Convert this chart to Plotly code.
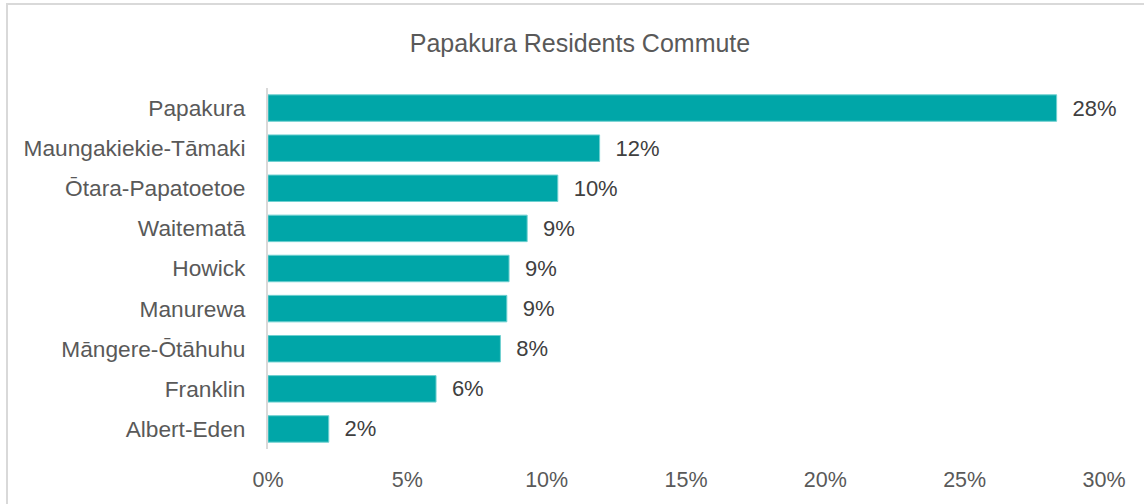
import plotly.graph_objects as go

categories = ["Papakura", "Maungakiekie-Tāmaki", "Ōtara-Papatoetoe", "Waitematā",
              "Howick", "Manurewa", "Māngere-Ōtāhuhu", "Franklin", "Albert-Eden"]
values = [0.283, 0.119, 0.104, 0.093, 0.0865, 0.0857, 0.0834, 0.0603, 0.0218]
x_tick_vals = [0, 0.05, 0.10, 0.15, 0.20, 0.25, 0.30]
x_tick_text = ["0%", "5%", "10%", "15%", "20%", "25%", "30%"]
title_text = "Papakura Residents Commute"

W, H = 1144, 504
L, R, T, B = 268, 40, 88, 55
FONT = "Liberation Sans"

fig = go.Figure()
fig.add_trace(go.Bar(
    y=categories, x=values, orientation="h",
    marker=dict(color="#00A6A8", line=dict(color="#6fd0d0", width=1)),
    text=[f"\u2002\u200a{round(v*100):d}%" for v in values],
    textposition="outside", cliponaxis=False,
    textfont=dict(family=FONT, size=22, color="#404040"),
    hoverinfo="skip",
))

fig.update_layout(
    width=W, height=H,
    margin=dict(l=L, r=R, t=T, b=B, pad=0),
    paper_bgcolor="white", plot_bgcolor="white",
    bargap=0.34,
    showlegend=False,
    title=dict(text=title_text, x=580 / W, xref="container", xanchor="center",
               y=1 - 43 / H, yref="container", yanchor="middle",
               font=dict(family=FONT, size=25, color="#595959")),
    xaxis=dict(range=[0, 0.30], tickvals=x_tick_vals, ticktext=x_tick_text,
               showgrid=False, zeroline=False, showline=False, ticks="",
               tickfont=dict(family=FONT, size=21.5, color="#595959"), ticklabelstandoff=15),
    yaxis=dict(autorange="reversed", showgrid=False, zeroline=False,
               showline=True, linecolor="#D9D9D9", linewidth=2, ticks="",
               ticklabelstandoff=16,
               tickfont=dict(family=FONT, size=22.7, color="#595959")),
)

# chart-area border
fig.add_shape(type="rect", xref="paper", yref="paper",
              x0=(7 - L) / (W - L - R), x1=(W + 10 - L) / (W - L - R),
              y0=-(B + 10) / (H - T - B), y1=1 + (T - 4) / (H - T - B),
              line=dict(color="#D9D9D9", width=2), fillcolor="rgba(0,0,0,0)", layer="below")

fig.write_html("out.html", config={"displayModeBar": False},
               post_script="document.body.style.margin='0';")
